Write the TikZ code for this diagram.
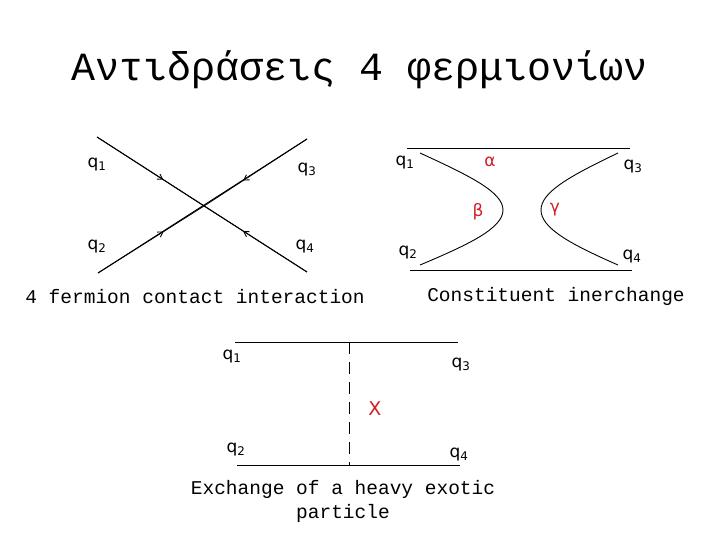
\documentclass[tikz,border=0pt]{standalone}
\usepackage{fontspec}
\setmainfont{DejaVu Sans}
\newfontfamily\monof{Liberation Mono}
\usetikzlibrary{decorations.markings,arrows.meta}
\begin{document}
\begin{tikzpicture}[x=1pt,y=-1pt,
 lab/.style={font=\fontsize{17}{19}\selectfont, inner sep=0pt},
 rlab/.style={lab, text={rgb,255:red,210;green,30;blue,40}},
 captext/.style={font=\monof\fontsize{19.5}{24}\selectfont, inner sep=0pt, align=center},
 ln/.style={line width=0.9pt},
 arr/.style={ln, decoration={markings, mark=at position 0.62 with {\arrow{Straight Barb[length=5pt,width=6pt]}}}, postaction={decorate}}]
\useasboundingbox (0,0) rectangle (720,540);
\node[font=\monof\fontsize{40}{44}\selectfont, inner sep=0pt] (title) at (360,70) {Αντιδράσεις 4 φερμιονίων};
% contact
\coordinate (c) at (204,206);
\coordinate (a1) at (97,137); \coordinate (a3) at (307,139);
\coordinate (a2) at (98,273); \coordinate (a4) at (307,272);
\draw[arr] (a1) -- (c); \draw[arr] (a3) -- (c);
\draw[arr] (a2) -- (c); \draw[arr] (a4) -- (c);
\draw[ln] (a1)--(a4); \draw[ln] (a2)--(a3);
\node[lab] (l1) at (97,165) {q\textsubscript{1}};
\node[lab] (l3) at (307,170) {q\textsubscript{3}};
\node[lab] (l2) at (97,247) {q\textsubscript{2}};
\node[lab] (l4) at (305,247) {q\textsubscript{4}};
\node[captext] (t1) at (195,297) {4 fermion contact interaction};
% constituent
\coordinate (r1) at (407,148); \coordinate (r2) at (630,148);
\coordinate (r3) at (410,270); \coordinate (r4) at (632,270);
\draw[ln] (r1)--(r2); \draw[ln] (r3)--(r4);
\draw[ln] (420,153) .. controls (470,176) and (503,192) .. (503,210) .. controls (503,228) and (470,244) .. (420,265);
\draw[ln] (618,153) .. controls (570,176) and (541,192) .. (541,210) .. controls (541,228) and (570,244) .. (618,265);
\node[lab] (m1) at (405,163) {q\textsubscript{1}};
\node[lab] (m3) at (633,167) {q\textsubscript{3}};
\node[lab] (m2) at (408,253) {q\textsubscript{2}};
\node[lab] (m4) at (632,257) {q\textsubscript{4}};
\node[rlab] (al) at (490,162) {α};
\node[rlab] (be) at (478,212) {β};
\node[rlab] (ga) at (555,210) {γ};
\node[captext] (t2) at (556,296) {Constituent inerchange};
% exchange
\coordinate (b1) at (235,342); \coordinate (b2) at (458,342);
\coordinate (b3) at (237,465); \coordinate (b4) at (460,465);
\coordinate (d1) at (349,342); \coordinate (d2) at (349,465);
\draw[ln] (b1)--(b2); \draw[ln] (b3)--(b4);
\draw[ln, dash pattern=on 12pt off 8pt] (d1)--(d2);
\node[lab] (n1) at (232,357) {q\textsubscript{1}};
\node[lab] (n3) at (461,365) {q\textsubscript{3}};
\node[lab] (n2) at (236,450) {q\textsubscript{2}};
\node[lab] (n4) at (459,455) {q\textsubscript{4}};
\node[rlab, font=\fontsize{19}{21}\selectfont] (X) at (375,409) {X};
\node[captext] (t3) at (343,501) {Exchange of a heavy exotic\\particle};
\end{tikzpicture}
\end{document}
